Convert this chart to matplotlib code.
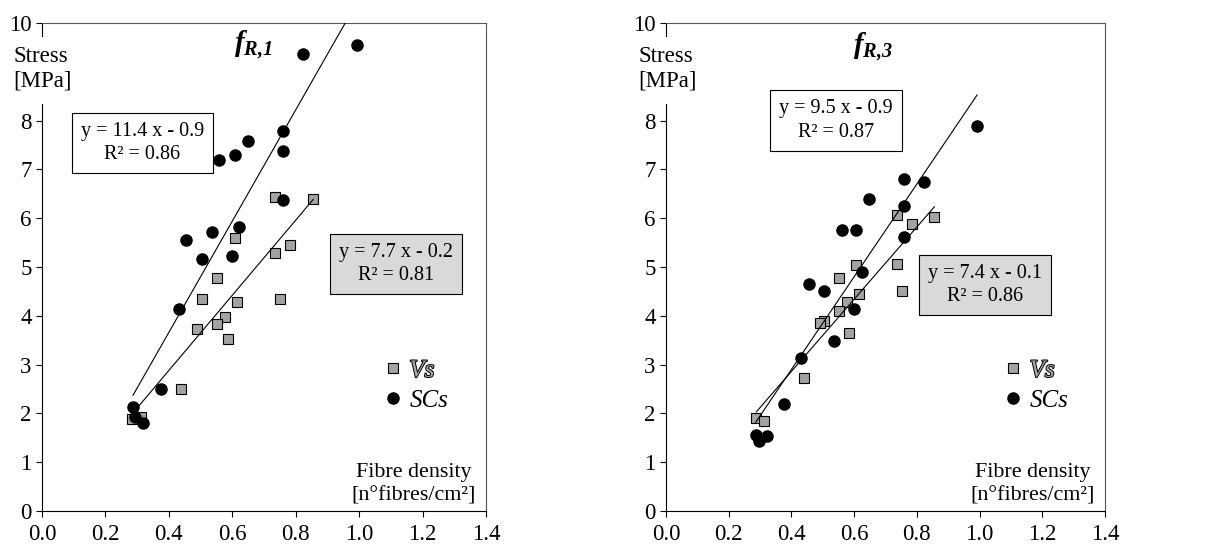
import matplotlib
matplotlib.use("Agg")
import matplotlib.pyplot as plt
import matplotlib.patheffects as pe
from matplotlib.patches import Rectangle
import numpy as np

plt.rcParams['font.family'] = ['Liberation Serif', 'DejaVu Serif']
plt.rcParams['mathtext.fontset'] = 'custom'
plt.rcParams['mathtext.it'] = 'Liberation Serif:italic:bold'
plt.rcParams['mathtext.rm'] = 'Liberation Serif:italic:bold'

# fibre density [n/cm2] and stress [MPa]
vs_x = [0.735, 0.855, 0.608, 0.783, 0.735, 0.551, 0.503, 0.752, 0.615, 0.576,
        0.551, 0.488, 0.585, 0.439, 0.285, 0.313]
vs_fr1 = [6.44, 6.40, 5.60, 5.45, 5.29, 4.77, 4.34, 4.35, 4.28, 3.98,
          3.83, 3.72, 3.53, 2.51, 1.88, 1.93]
sc_x = [0.822, 0.992, 0.759, 0.759, 0.648, 0.608, 0.559, 0.759, 0.621, 0.536,
        0.455, 0.503, 0.599, 0.431, 0.375, 0.287, 0.293, 0.320]
sc_fr1 = [9.36, 9.54, 7.79, 7.38, 7.58, 7.30, 7.19, 6.37, 5.82, 5.72,
          5.55, 5.16, 5.23, 4.13, 2.50, 2.13, 1.92, 1.80]

vs_x3 = [0.736, 0.785, 0.856, 0.607, 0.736, 0.551, 0.753, 0.617, 0.576, 0.551,
         0.505, 0.491, 0.585, 0.440, 0.288, 0.313]
vs_fr3 = [6.07, 5.88, 6.02, 5.05, 5.06, 4.77, 4.51, 4.45, 4.28, 4.10,
          3.90, 3.86, 3.64, 2.72, 1.91, 1.85]
sc_x3 = [0.992, 0.760, 0.824, 0.648, 0.760, 0.561, 0.607, 0.760, 0.625, 0.456,
         0.505, 0.600, 0.537, 0.431, 0.375, 0.286, 0.297, 0.323]
sc_fr3 = [7.88, 6.80, 6.75, 6.39, 6.24, 5.76, 5.76, 5.62, 4.90, 4.65,
          4.51, 4.13, 3.48, 3.14, 2.19, 1.56, 1.44, 1.54]

# trend lines (slope, intercept, R2)
fit_sc1 = (11.4, -0.9, 0.86)
fit_vs1 = (7.7, -0.2, 0.81)
fit_sc3 = (9.5, -0.9, 0.87)
fit_vs3 = (7.4, -0.1, 0.86)

yticks = list(range(0, 11))
ylabels = ['' if v == 9 else str(v) for v in yticks]

W, H = 1207, 547
fig = plt.figure(figsize=(W / 100, H / 100), dpi=100)


def panel(rect, vx, vy, sx, sy, fsc, fvs, title, box_sc, box_vs, rect_x):
    ax = fig.add_axes(rect)
    ax.plot(vx, vy, ls='none', marker='s', ms=7.8, mfc='#a3a3a3', mec='black',
            mew=0.8, label='Vs', zorder=3)
    ax.plot(sx, sy, ls='none', marker='o', ms=8.0, mfc='black', mec='black',
            label='SCs', zorder=4)
    for (k, b, r2), xs in ((fsc, sx), (fvs, vx)):
        xx = np.array([min(xs), max(xs)])
        ax.plot(xx, k * xx + b, color='black', lw=0.8, zorder=5)

    ax.set_xlim(0, 1.4)
    ax.set_ylim(0, 10)
    ax.set_xticks(np.arange(0, 1.41, 0.2))
    ax.set_xticklabels(['%.1f' % v for v in np.arange(0, 1.41, 0.2)])
    ax.set_yticks(yticks)
    ax.set_yticklabels(ylabels)
    ax.tick_params(direction='out', length=4, width=0.8, labelsize=16.5)
    ax.tick_params(axis='x', pad=5)
    for s in ('left', 'bottom'):
        ax.spines[s].set_color('black')
    for s in ('top', 'right'):
        ax.spines[s].set_color('#555555')

    # title and boxed equations
    ax.text(title[0], title[1], title[2], fontsize=21, ha='center', va='center')
    for (k, b, r2), (bx, by, fc) in ((fsc, box_sc), (fvs, box_vs)):
        ax.text(bx, by, 'y = %.1f x - %.1f\nR\u00b2 = %.2f' % (k, -b, r2),
                fontsize=14.5, ha='center', va='center', linespacing=1.3,
                bbox=dict(boxstyle='square,pad=0.45', fc=fc, ec='black', lw=0.8),
                zorder=6)

    # axis labels drawn inside the plot area
    ax.add_patch(Rectangle((rect_x[0], 8.34), rect_x[1] - rect_x[0], 1.37,
                           fc='white', ec='none', clip_on=False, zorder=6))
    ax.text(rect_x[0] + 0.017, 9.52, 'Stress\n[MPa]', fontsize=16.5, ha='left',
            va='top', linespacing=1.2, clip_on=False, zorder=7)
    ax.text(1.367, 0.12, 'Fibre density\n[n\u00b0fibres/cm\u00b2]', fontsize=15.8,
            ha='right', va='bottom', multialignment='center', linespacing=1.3)

    leg = ax.legend(loc='center left', bbox_to_anchor=(0.74, 0.257),
                    frameon=False, handlelength=0.8, handletextpad=0.25,
                    labelspacing=0.3, borderpad=0,
                    prop=dict(family='Liberation Serif', style='italic', size=18))
    leg.get_texts()[0].set_color('#a8a8a8')
    leg.get_texts()[0].set_path_effects([pe.withStroke(linewidth=1.4,
                                                       foreground='black')])
    return ax


panel([42 / W, 36 / H, 444 / W, 488 / H], vs_x, vs_fr1, sc_x, sc_fr1,
      fit_sc1, fit_vs1, (0.666, 9.55, '$f_{R{,}1}$'),
      (0.317, 7.54, 'white'), (1.117, 5.06, '#d9d9d9'), (-0.108, 0.08))
panel([666 / W, 36 / H, 439 / W, 488 / H], vs_x3, vs_fr3, sc_x3, sc_fr3,
      fit_sc3, fit_vs3, (0.660, 9.51, '$f_{R{,}3}$'),
      (0.542, 8.0, 'white'), (1.017, 4.63, '#d9d9d9'), (-0.106, 0.08))

fig.savefig('out.png', dpi=100)
